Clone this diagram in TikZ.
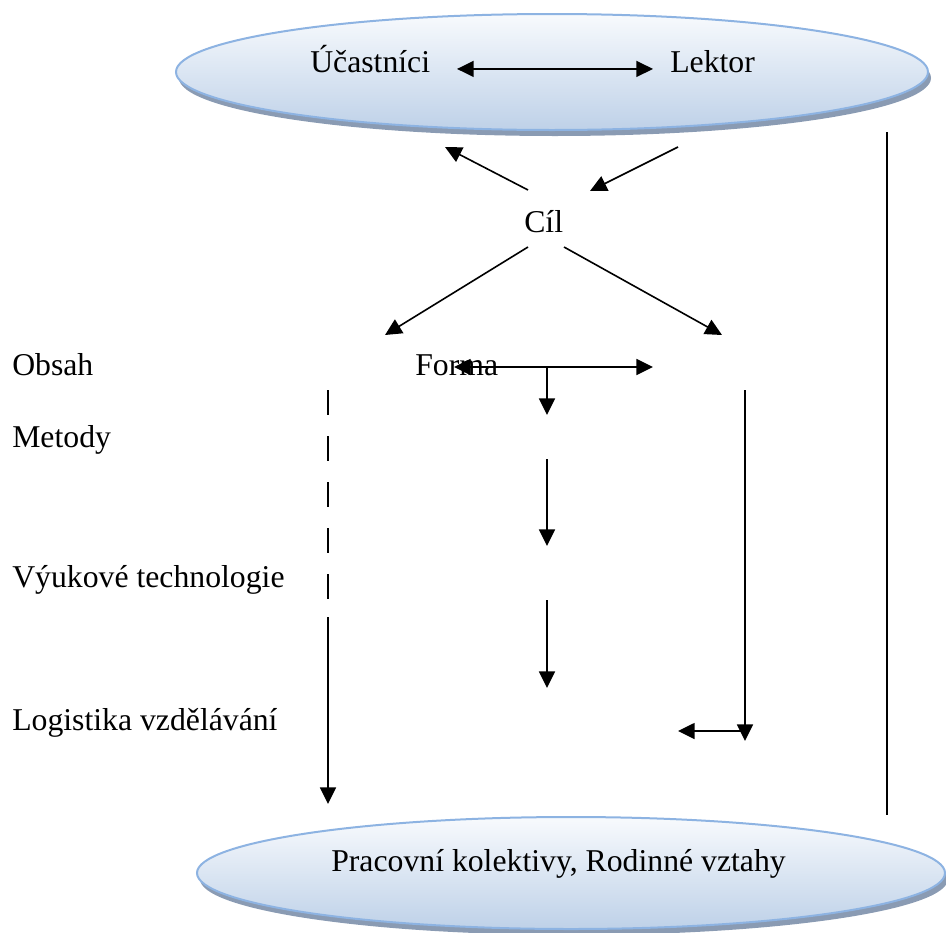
\documentclass[tikz,border=0pt]{standalone}
\usepackage{fontspec}
\setmainfont{Liberation Serif}
\usetikzlibrary{positioning}
\usetikzlibrary{arrows.meta}
\definecolor{elfill}{HTML}{BED1E8}
\definecolor{eltop}{HTML}{F8FAFD}
\definecolor{elrim}{HTML}{8DB3E2}
\definecolor{elstin}{HTML}{8A9BB3}
\tikzset{
 napis/.style={anchor=base west,inner sep=0pt,font=\fontsize{23.8}{28}\selectfont},
 sipka/.style={-{Triangle[length=12.5pt,width=12pt]},line width=1.2pt},
 dvojsipka/.style={{Triangle[length=12.5pt,width=12pt]}-{Triangle[length=12.5pt,width=12pt]},line width=1.2pt},
 cara/.style={line width=1.2pt},
 carkovana/.style={line width=1.2pt,dash pattern=on 18.75pt off 15.75pt},
}

\begin{document}
\begin{tikzpicture}[x=0.75pt,y=-0.75pt]
 \useasboundingbox (0,0) rectangle (946,932);
 \fill[elstin] (555,78) ellipse [x radius=376,y radius=58];
 \shade[top color=eltop,bottom color=elfill] (552,72) ellipse [x radius=376,y radius=58];
 \draw[elrim,line width=1.5pt] (552,72) ellipse [x radius=376,y radius=58];
 \fill[elstin] (574,879) ellipse [x radius=374,y radius=56];
 \shade[top color=eltop,bottom color=elfill] (571,873) ellipse [x radius=374,y radius=56];
 \draw[elrim,line width=1.5pt] (571,873) ellipse [x radius=374,y radius=56];

 \node[napis] (ucastnici) at (310,72) {Účastníci};
 \node[napis] (lektor) at (670,72) {Lektor};
 \node[napis] (cil) at (524,232) {Cíl};
 \node[napis] (obsah) at (12,375) {Obsah};
 \node[napis] (forma) at (415,375) {Forma};
 \node[napis] (metody) at (12,447) {Metody};
 \node[napis] (vyuka) at (12,587) {Výukové technologie};
 \node[napis] (logistika) at (12,730) {Logistika vzdělávání};
 \node[napis] (kolektivy) at (331,871) {Pracovní kolektivy, Rodinné vztahy};

 \coordinate (cilU) at (528,190); \coordinate (ucU) at (445,147);
 \coordinate (lekL) at (678,147); \coordinate (cilL) at (590,191);
 \coordinate (cilO) at (528,247); \coordinate (obsO) at (385,335);
 \coordinate (cilF) at (564,247); \coordinate (forF) at (722,335);
 \coordinate (formaL) at (454,367); \coordinate (formaP) at (653,367);
 \coordinate (formaS) at (547,367); \coordinate (m1) at (547,415);
 \coordinate (m2) at (547,459); \coordinate (v1) at (547,546);
 \coordinate (v2) at (547,600); \coordinate (l1) at (547,688);
 \coordinate (obsD) at (328,390); \coordinate (obsD2) at (328,600);
 \coordinate (obsD3) at (328,617); \coordinate (obsK) at (328,804);
 \coordinate (pravH) at (745,390); \coordinate (pravD) at (745,741);
 \coordinate (pravV) at (745,731); \coordinate (pravL) at (678,731);
 \coordinate (okrajH) at (887,132); \coordinate (okrajD) at (887,815);

 \draw[dvojsipka,shorten <=20pt,shorten >=12.75pt] (ucastnici.mid east) -- (lektor.mid west);
 \draw[sipka] (cilU) -- (ucU);
 \draw[sipka] (lekL) -- (cilL);
 \draw[sipka] (cilO) -- (obsO);
 \draw[sipka] (cilF) -- (forF);
 \draw[dvojsipka] (formaL) -- (formaP);
 \draw[sipka] (formaS) -- (m1);
 \draw[sipka] (m2) -- (v1);
 \draw[sipka] (v2) -- (l1);
 \draw[carkovana] (obsD) -- (obsD2);
 \draw[sipka] (obsD3) -- (obsK);
 \draw[sipka] (pravH) -- (pravD);
 \draw[sipka] (pravV) -- (pravL);
 \draw[cara] (okrajH) -- (okrajD);
\end{tikzpicture}
\end{document}
